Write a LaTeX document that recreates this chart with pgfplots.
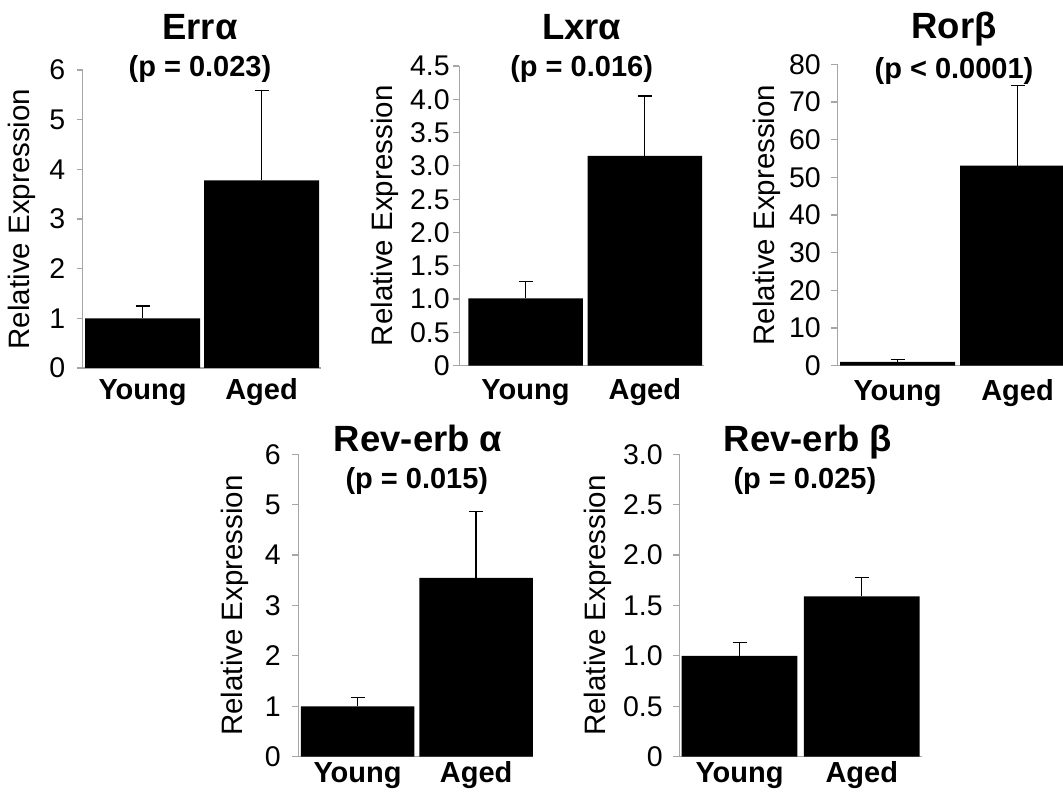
\documentclass[border=0pt]{standalone}
\usepackage{fontspec}
\setmainfont{Liberation Sans}
\usepackage{pgfplots}
\pgfplotsset{compat=1.18}

\newcommand{\lab}{\fontsize{28.5pt}{34pt}\selectfont}
\newcommand{\ylab}{\fontsize{29.5pt}{34pt}\selectfont}
\newcommand{\blab}{\fontsize{29pt}{34pt}\selectfont\bfseries}
\newcommand{\ttl}{\fontsize{36.5pt}{42pt}\selectfont\bfseries}

\pgfplotsset{
  relbar/.style={
    scale only axis,
    anchor=south west,
    ybar,
    axis x line*=bottom, axis y line*=left,
    axis line style={-, gray!70, line width=1.2pt},
    ymin=0,
    xtick={0,1}, xticklabels={Young,Aged},
    major x tick style={draw=none},
    ytick style={gray!70, line width=1.2pt},
    xtick align=inside,
    ytick align=outside,
    major tick length=6pt,
    tick label style={font=\lab},
    xticklabel style={font=\blab, anchor=base},
    /pgf/number format/assume math mode=true,
    ylabel={Relative Expression},
    ylabel style={font=\ylab, anchor=center},
    clip=false,
  },
  relplot/.style={
    fill=black, draw=none,
    error bars/.cd, y dir=plus, y explicit,
    error bar style={black, line width=1.3pt},
    error mark options={rotate=90, mark size=7pt, line width=1.3pt, black},
  },
}

\begin{document}
\begin{tikzpicture}
\useasboundingbox (0,0) rectangle (1063pt,792pt);
\clip (0,0) rectangle (1063pt,792pt);

% Err alpha
\begin{axis}[relbar, at={(82.7pt,424pt)}, width=238.3pt, height=298pt,
  xmin=-0.503, xmax=1.5, ymax=6, ytick={0,1,2,3,4,5,6},
  bar width=115pt,
  xticklabel style={yshift=-32pt},
  yticklabel style={xshift=-8pt},
  ylabel style={at={(axis description cs:-0.2547,0.5)}}]
\addplot[relplot] coordinates {(0,1.0) +- (0,0.25) (1,3.78) +- (0,1.81)};
\node[anchor=base, font=\ttl] at (axis description cs:0.492,1.1007) {Errα};
\node[anchor=base, font=\blab] at (axis description cs:0.492,0.9775) {(p = 0.023)};
\end{axis}

% Lxr alpha
\begin{axis}[relbar, at={(459.3pt,426.3pt)}, width=244.7pt, height=299.7pt,
  xmin=-0.555, xmax=1.496, ymax=4.5,
  ytick={0,0.5,1,1.5,2,2.5,3,3.5,4,4.5},
  yticklabels={0,0.5,1.0,1.5,2.0,2.5,3.0,3.5,4.0,4.5},
  bar width=114.5pt,
  xticklabel style={yshift=-34pt},
  ylabel style={at={(axis description cs:-0.3036,0.5)}}]
\addplot[relplot] coordinates {(0,1.01) +- (0,0.25) (1,3.15) +- (0,0.90)};
\node[anchor=base, font=\ttl] at (axis description cs:0.50,1.0868) {Lxrα};
\node[anchor=base, font=\blab] at (axis description cs:0.50,0.9643) {(p = 0.016)};
\end{axis}

% Ror beta
\begin{axis}[relbar, at={(837.3pt,426.3pt)}, width=240.2pt, height=301.4pt,
  xmin=-0.502, xmax=1.5, ymax=80, ytick={0,10,20,30,40,50,60,70,80},
  bar width=115pt,
  xticklabel style={yshift=-35pt},
  yticklabel style={xshift=-7pt},
  ylabel style={at={(axis description cs:-0.2939,0.5)}}]
\addplot[relplot] coordinates {(0,1.0) +- (0,0.7) (1,53.1) +- (0,21.2)};
\node[anchor=base, font=\ttl] at (axis description cs:0.486,1.084) {Rorβ};
\node[anchor=base, font=\blab] at (axis description cs:0.486,0.9545) {(p < 0.0001)};
\end{axis}

% Rev-erb alpha
\begin{axis}[relbar, at={(298.3pt,35.3pt)}, width=234.7pt, height=302.4pt,
  xmin=-0.5, xmax=1.48, ymax=6, ytick={0,1,2,3,4,5,6},
  bar width=113.6pt,
  xticklabel style={yshift=-26pt},
  yticklabel style={xshift=-8pt},
  ylabel style={at={(axis description cs:-0.2697,0.5)}}]
\addplot[relplot] coordinates {(0,1.0) +- (0,0.18) (1,3.55) +- (0,1.31)};
\node[anchor=base, font=\ttl] at (axis description cs:0.511,1.0086) {Rev-erb α};
\node[anchor=base, font=\blab] at (axis description cs:0.505,0.8876) {(p = 0.015)};
\end{axis}

% Rev-erb beta
\begin{axis}[relbar, at={(679.3pt,35.3pt)}, width=242.4pt, height=302.4pt,
  xmin=-0.493, xmax=1.49, ymax=3,
  ytick={0,0.5,1,1.5,2,2.5,3},
  yticklabels={0,0.5,1.0,1.5,2.0,2.5,3.0},
  bar width=115.7pt,
  xticklabel style={yshift=-26pt},
  yticklabel style={xshift=-7pt},
  ylabel style={at={(axis description cs:-0.3342,0.5)}}]
\addplot[relplot] coordinates {(0,1.0) +- (0,0.13) (1,1.59) +- (0,0.19)};
\node[anchor=base, font=\ttl] at (axis description cs:0.531,1.0086) {Rev-erb β};
\node[anchor=base, font=\blab] at (axis description cs:0.518,0.8876) {(p = 0.025)};
\end{axis}
\end{tikzpicture}
\end{document}
